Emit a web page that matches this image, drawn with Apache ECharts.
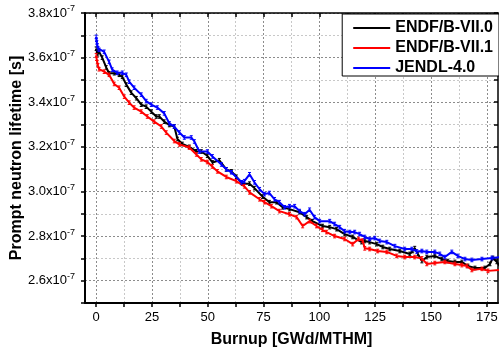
<!DOCTYPE html>
<html><head><meta charset="utf-8">
<script src="https://cdn.jsdelivr.net/npm/echarts@6/dist/echarts.min.js"></script>
<style>html,body{margin:0;padding:0;background:#fff}#c{width:499px;height:356px}</style>
</head><body><div id="c"></div>
<script>
const seriesNames = ['ENDF/B-VII.0', 'ENDF/B-VII.1', 'JENDL-4.0'];
const seriesColors = ['#000000', '#ff0000', '#0000ff'];

// Burnup [GWd/MTHM] and prompt neutron lifetime [units of 1e-7 s]
const burnupE70 = [0,0.3,0.7,1.3,2.7,4.5,5.8,8.1,10.3,11.7,13.5,15.7,18.0,20.2,22.4,24.7,26.9,28.3,30.5,32.8,35.0,36.4,38.6,41.7,44.9,47.1,49.8,52.1,55.2,58.3,60.6,62.8,65.5,68.7,70.9,74.5,77.6,80.8,83.5,86.6,91.1,94.3,96.9,101.4,104.6,107.7,111.3,114.9,118.9,120.3,122.5,125.7,128.4,131.5,136.0,140.5,141.8,142.7,144.1,145.9,148.1,151.7,154.8,157.5,160.7,163.8,166.5,169.7,174.1,176.4,177.7,179.5,181];
const lifetimeE70 = [3.640,3.628,3.615,3.626,3.600,3.556,3.530,3.530,3.523,3.514,3.479,3.443,3.418,3.389,3.380,3.358,3.336,3.336,3.313,3.298,3.291,3.235,3.213,3.200,3.180,3.179,3.160,3.130,3.140,3.099,3.090,3.066,3.035,3.035,3.015,2.977,2.952,2.952,2.929,2.921,2.907,2.885,2.867,2.845,2.840,2.831,2.809,2.796,2.773,2.778,2.773,2.764,2.751,2.742,2.733,2.720,2.733,2.746,2.720,2.688,2.706,2.711,2.697,2.688,2.684,2.684,2.666,2.657,2.657,2.675,2.702,2.684,2.662];

const burnupE71 = [0,0.2,0.5,0.8,1.3,3.6,5.8,8.1,10.3,12.6,14.8,17.0,20.2,22.9,26.0,29.2,31.4,35.0,37.3,41.7,44.9,47.1,49.8,52.0,54.3,58.3,62.8,66.4,68.7,73.2,75.4,78.5,82.1,86.6,89.8,92.5,95.6,98.7,101.4,103.2,106.8,111.3,114.9,117.5,119.4,120.3,122.5,126.1,130.2,134.6,138.2,142.7,145.9,148.1,151.7,156.2,160.7,163.8,166.1,168.3,172.8,175.5,181];
const lifetimeE71 = [3.610,3.595,3.580,3.565,3.548,3.537,3.523,3.482,3.465,3.425,3.398,3.376,3.358,3.336,3.313,3.291,3.264,3.226,3.211,3.197,3.166,3.144,3.132,3.112,3.090,3.065,3.046,3.023,2.996,2.965,2.952,2.934,2.912,2.898,2.885,2.845,2.867,2.845,2.828,2.818,2.800,2.787,2.764,2.787,2.780,2.745,2.742,2.733,2.729,2.711,2.706,2.706,2.700,2.675,2.679,2.684,2.675,2.670,2.666,2.648,2.653,2.644,2.648];

const burnupJ40 = [0,0.15,0.3,0.5,0.8,1.3,3.6,5.8,7.2,9.4,11.7,13.5,14.8,17.0,20.2,22.4,24.7,27.4,30.5,32.8,35.0,37.3,39.5,42.6,44.0,46.2,49.8,52.1,56.1,58.3,60.6,65.1,66.4,68.7,70.9,73.2,75.4,77.6,79.9,82.1,84.4,86.6,88.9,91.1,93.4,95.6,97.8,100.1,104.6,106.8,109.1,111.3,113.6,115.8,118.0,120.3,122.5,124.8,127.0,130.2,133.8,138.2,141.4,143.6,145.9,148.1,151.7,153.9,156.2,159.3,162.0,165.2,168.3,172.8,177.3,181];
const lifetimeJ40 = [3.693,3.680,3.668,3.655,3.642,3.635,3.626,3.581,3.546,3.532,3.532,3.523,3.492,3.465,3.434,3.405,3.389,3.376,3.350,3.305,3.291,3.264,3.242,3.242,3.224,3.179,3.179,3.157,3.121,3.099,3.086,3.041,3.046,3.077,3.041,3.010,2.988,2.993,2.965,2.952,2.929,2.934,2.934,2.912,2.898,2.918,2.885,2.867,2.867,2.854,2.840,2.822,2.818,2.818,2.809,2.796,2.787,2.791,2.778,2.773,2.755,2.742,2.742,2.731,2.733,2.729,2.729,2.720,2.706,2.729,2.711,2.697,2.693,2.697,2.702,2.706];

const errorHalf = [0.008, 0.008, 0.008];

const xTickValues = [0,12.5,25,37.5,50,62.5,75,87.5,100,112.5,125,137.5,150,162.5,175];
const xLabelValues = [0,25,50,75,100,125,150,175];

const FONT = "'Liberation Sans', Arial, sans-serif";
const burnups = [burnupE70, burnupE71, burnupJ40];
const lifetimes = [lifetimeE70, lifetimeE71, lifetimeJ40];

function errRender(color) {
  return function (params, api) {
    const x = api.value(0), lo = api.value(1), hi = api.value(2);
    const p1 = api.coord([x, lo]), p2 = api.coord([x, hi]);
    const w = 1.5;
    const st = { stroke: color, lineWidth: 1 };
    return { type: 'group', children: [
      { type: 'line', shape: { x1: p1[0], y1: p1[1], x2: p2[0], y2: p2[1] }, style: st },
      { type: 'line', shape: { x1: p1[0] - w, y1: p1[1], x2: p1[0] + w, y2: p1[1] }, style: st },
      { type: 'line', shape: { x1: p2[0] - w, y1: p2[1], x2: p2[0] + w, y2: p2[1] }, style: st }
    ]};
  };
}

const series = [];
seriesNames.forEach((name, i) => {
  const xs = burnups[i], ys = lifetimes[i];
  series.push({
    name: name, type: 'line', showSymbol: false, symbol: 'none',
    data: xs.map((x, k) => [x, ys[k]]),
    lineStyle: { color: seriesColors[i], width: 2 },
    itemStyle: { color: seriesColors[i] },
    clip: true, animation: false, z: 3 + i
  });
  series.push({
    type: 'custom', renderItem: errRender(seriesColors[i]), animation: false, z: 3 + i,
    data: xs.map((x, k) => [x, ys[k] - errorHalf[i], ys[k] + errorHalf[i]]).filter(d => d[0] <= 180),
    clip: true, silent: true
  });
});

const chart = echarts.init(document.getElementById('c'), null, { renderer: 'canvas' });
chart.setOption({
  animation: false,
  backgroundColor: '#fff',
  textStyle: { fontFamily: FONT },
  grid: { left: 85, right: 1, top: 13, bottom: 53, outerBoundsMode: 'none' },
  legend: {
    data: seriesNames, orient: 'vertical', right: 0, top: 14,
    icon: 'rect', itemWidth: 37, itemHeight: 2, itemGap: 4,
    padding: [6, 6, 0, 11],
    borderColor: '#000', borderWidth: 1, backgroundColor: '#fff',
    textStyle: { fontSize: 16, fontWeight: 'bold', color: '#000', fontFamily: FONT }
  },
  xAxis: [{
    type: 'value', min: -5, max: 180, position: 'bottom',
    name: 'Burnup [GWd/MTHM]', nameLocation: 'middle', nameGap: 29, nameMoveOverlap: false,
    nameTextStyle: { fontSize: 16, fontWeight: 'bold', color: '#000', fontFamily: FONT },
    axisLine: { onZero: false, lineStyle: { color: '#000', width: 2 } },
    axisTick: { customValues: xTickValues, length: 4, lineStyle: { color: '#000', width: 1.5 } },
    axisLabel: { customValues: xLabelValues, fontSize: 13, color: '#000', margin: 8, fontFamily: FONT },
    splitLine: { show: true, lineStyle: { color: ['#8c8c8c', '#c8c8c8'], type: [2, 2], width: 1 } }
  }, {
    type: 'value', min: -5, max: 180, position: 'top',
    axisLine: { onZero: false, lineStyle: { color: '#000', width: 1.5 } },
    axisTick: { customValues: xTickValues, inside: true, length: 4, lineStyle: { color: '#000', width: 1.5 } },
    axisLabel: { show: false }, splitLine: { show: false }
  }],
  yAxis: [{
    type: 'value', min: 2.5, max: 3.8, interval: 0.1, position: 'left',
    name: 'Prompt neutron lifetime [s]', nameLocation: 'middle', nameGap: 60, nameRotate: 90,
    nameMoveOverlap: false,
    nameTextStyle: { fontSize: 16, fontWeight: 'bold', color: '#000', fontFamily: FONT },
    axisLine: { onZero: false, lineStyle: { color: '#000', width: 2 } },
    axisTick: { length: 4, lineStyle: { color: '#000', width: 1.5 } },
    axisLabel: {
      margin: 10, color: '#000', fontFamily: FONT,
      formatter: function (v) {
        const t = Math.round(v * 10);
        if (t % 2 !== 0 || t < 26) return '';
        return '{a|' + (t / 10).toFixed(1) + 'x10}{b|-7}';
      },
      rich: {
        a: { fontSize: 13, color: '#000', fontFamily: FONT },
        b: { fontSize: 9, color: '#000', fontFamily: FONT, padding: [0, 0, 8, 0] }
      }
    },
    splitLine: { show: true, lineStyle: { color: ['#c8c8c8', '#8c8c8c'], type: [2, 2], width: 1 } }
  }, {
    type: 'value', min: 2.5, max: 3.8, interval: 0.1, position: 'right',
    axisLine: { onZero: false, lineStyle: { color: '#000', width: 1.5 } },
    axisTick: { inside: true, length: 4, lineStyle: { color: '#000', width: 1.5 } },
    axisLabel: { show: false }, splitLine: { show: false }
  }],
  series: series
});
</script>
</body></html>
